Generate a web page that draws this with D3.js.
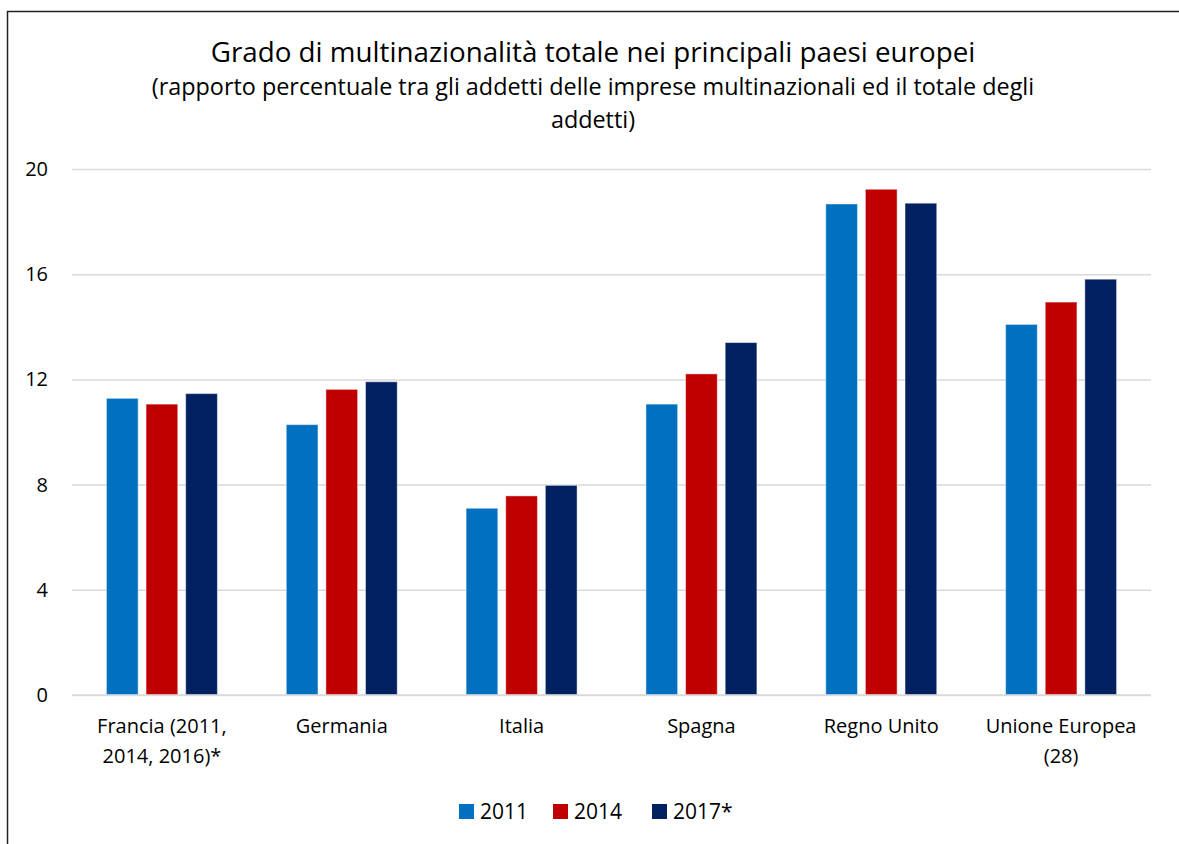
<!DOCTYPE html>
<html lang="it">
<head>
  <meta charset="UTF-8">
  <title>Grado di multinazionalità</title>
  <script src="https://d3js.org/d3.v7.min.js"></script>
  <style>
    body { margin: 0; background: #fff; }
    text { font-family: "Open Sans", "Noto Sans", sans-serif; fill: #000; }
    .grid line { stroke: #d9d9d9; stroke-width: 1.5; }
    .grid .domain { stroke: none; }
  </style>
</head>
<body>
<svg id="chart" width="1179" height="844"></svg>
<script>
  // data
  const categories = ["Francia (2011, 2014, 2016)*", "Germania", "Italia", "Spagna", "Regno Unito", "Unione Europea (28)"];
  const seriesNames = ["2011", "2014", "2017*"];
  const values2011 = [11.28, 10.28, 7.10, 11.06, 18.67, 14.09];
  const values2014 = [11.06, 11.62, 7.57, 12.21, 19.23, 14.94];
  const values2017 = [11.46, 11.91, 7.97, 13.40, 18.70, 15.81];
  const yTicks = [0, 4, 8, 12, 16, 20];
  const colors = ["#0070c0", "#c00000", "#002060"];

  const allValues = [values2011, values2014, values2017];

  const svg = d3.select("svg#chart");
  const margin = {top: 169, right: 28, bottom: 149, left: 72};
  const width = +svg.attr("width");
  const height = +svg.attr("height");
  const chartWidth = width - margin.left - margin.right;
  const chartHeight = height - margin.top - margin.bottom;

  // frame of the chart object (cut at right/bottom in the original)
  svg.append("path")
     .attr("d", `M7.5,${height} L7.5,11.5 L${width},11.5`)
     .attr("fill", "none")
     .attr("stroke", "#222")
     .attr("stroke-width", 1.5);

  // titles, fitted to the width seen in the picture
  function fitText(sel, target) {
    const w = sel.node().getComputedTextLength();
    const fs = parseFloat(sel.style("font-size"));
    sel.style("font-size", (fs * target / w) + "px");
  }
  const titleX = 593;
  const t1 = svg.append("text").attr("x", titleX).attr("y", 62)
                .attr("text-anchor", "middle").style("font-size", "26px")
                .text("Grado di multinazionalità totale nei principali paesi europei");
  fitText(t1, 765);
  const t2 = svg.append("text").attr("x", titleX).attr("y", 95)
                .attr("text-anchor", "middle").style("font-size", "20px")
                .text("(rapporto percentuale tra gli addetti delle imprese multinazionali ed il totale degli");
  fitText(t2, 883);
  svg.append("text").attr("x", titleX).attr("y", 128)
     .attr("text-anchor", "middle").style("font-size", t2.style("font-size"))
     .text("addetti)");

  const g = svg.append("g").attr("transform", `translate(${margin.left},${margin.top})`);

  const y = d3.scaleLinear().domain([0, 20]).range([chartHeight, 0]);
  const x0 = d3.scaleBand().domain(categories).range([0, chartWidth])
               .paddingInner(0.383).paddingOuter(0.1915);
  const x1 = d3.scaleBand().domain(seriesNames).range([0, x0.bandwidth()])
               .paddingInner(0.2);

  // gridlines
  g.append("g").attr("class", "grid")
   .call(d3.axisLeft(y).tickValues(yTicks).tickSize(-chartWidth).tickFormat(""));

  // y tick labels
  g.append("g")
   .call(d3.axisLeft(y).tickValues(yTicks).tickSize(0).tickPadding(24))
   .call(a => a.select(".domain").remove())
   .call(a => a.selectAll("text").style("font-size", "20px")
                .style("font-family", "'Open Sans', sans-serif").attr("fill", "#000"));

  // bars
  seriesNames.forEach((s, si) => {
    g.append("g").selectAll("rect")
     .data(categories)
     .join("rect")
     .attr("x", (c) => x0(c) + x1(s))
     .attr("y", (c, i) => y(allValues[si][i]))
     .attr("width", x1.bandwidth())
     .attr("height", (c, i) => y(0) - y(allValues[si][i]))
     .attr("fill", colors[si])
     .attr("stroke", "rgba(255,255,255,0.45)")
     .attr("stroke-width", 1);
  });

  // x axis labels (wrapped)
  const xAxis = g.append("g")
                 .attr("transform", `translate(0,${chartHeight})`)
                 .call(d3.axisBottom(x0).tickSize(0).tickPadding(0));
  xAxis.select(".domain").remove();
  xAxis.selectAll("text").remove();
  xAxis.selectAll(".tick").each(function(c) {
    const words = c.split(" ");
    const txt = d3.select(this).append("text")
                  .attr("text-anchor", "middle")
                  .style("font-size", "20px")
                  .style("font-family", "'Open Sans', sans-serif")
                  .attr("fill", "#000");
    let line = [];
    let lineNo = 0;
    let tspan = txt.append("tspan").attr("x", 0).attr("y", 38);
    words.forEach(w => {
      line.push(w);
      tspan.text(line.join(" "));
      if (tspan.node().getComputedTextLength() > 165 && line.length > 1) {
        line.pop();
        tspan.text(line.join(" "));
        line = [w];
        lineNo++;
        tspan = txt.append("tspan").attr("x", 0).attr("y", 38 + lineNo * 30).text(w);
      }
    });
  });

  // zero line
  g.append("line")
   .attr("x1", 0).attr("x2", chartWidth)
   .attr("y1", y(0)).attr("y2", y(0))
   .attr("stroke", "#d9d9d9").attr("stroke-width", 1.5);

  // legend
  const legendX = [459, 553, 652];
  const legend = svg.append("g");
  seriesNames.forEach((s, i) => {
    legend.append("rect")
          .attr("x", legendX[i]).attr("y", 804)
          .attr("width", 15).attr("height", 15)
          .attr("fill", colors[i]);
    legend.append("text")
          .attr("x", legendX[i] + 21).attr("y", 819)
          .style("font-size", "21px")
          .text(s);
  });
</script>
</body>
</html>
